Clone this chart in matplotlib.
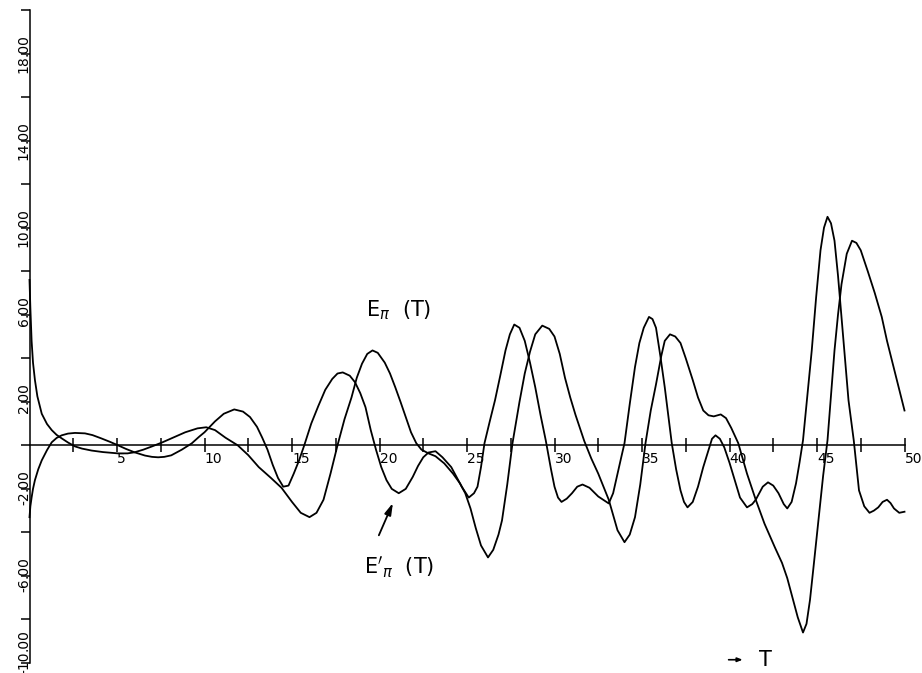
import numpy as np
import matplotlib.pyplot as plt

# E_pi(T)
t_a = [0.0, 0.05, 0.12, 0.2, 0.31, 0.45, 0.7, 1.0, 1.27, 1.55, 1.84, 2.2, 2.6, 3.0, 3.55,
       4.2, 5.06, 5.6, 6.0, 6.5, 7.0, 7.6, 8.2, 8.9, 9.6, 10.1, 10.6, 11.2, 11.9, 12.5,
       13.1, 13.8, 14.4, 15.0, 15.5, 16.0, 16.4, 16.8, 17.2, 17.6, 18.0, 18.4, 18.7, 19.0,
       19.3, 19.6, 19.9, 20.3, 20.6, 20.9, 21.2, 21.5, 21.8, 22.1, 22.4, 22.8, 23.2, 23.7,
       24.2, 24.6, 24.9, 25.2, 25.5, 25.8, 26.2, 26.5, 26.8, 27.0, 27.3, 27.6, 28.0, 28.3,
       28.6, 28.9, 29.3, 29.7, 30.0, 30.3, 30.6, 30.9, 31.2, 31.7, 32.1, 32.5, 33.1, 33.6,
       34.0, 34.3, 34.6, 34.9, 35.2, 35.5, 35.8, 36.1, 36.3, 36.6, 36.9, 37.2, 37.5, 37.9,
       38.2, 38.5, 38.8, 39.1, 39.5, 39.8, 40.1, 40.5, 41.0, 41.5, 42.0, 42.6, 43.0, 43.3,
       43.6, 43.9, 44.2, 44.4, 44.6, 44.8, 45.1, 45.35, 45.6, 45.8, 46.0, 46.2, 46.4, 46.7,
       47.0, 47.25, 47.5, 47.9, 48.3, 48.7, 49.0, 49.5, 50.0]
e_a = [7.6, 6.3, 4.8, 3.8, 3.0, 2.25, 1.45, 0.98, 0.7, 0.48, 0.32, 0.13, -0.05, -0.15, -0.24,
       -0.31, -0.37, -0.37, -0.32, -0.2, -0.05, 0.14, 0.35, 0.6, 0.78, 0.83, 0.7, 0.35, 0.0, -0.45,
       -1.0, -1.5, -1.95, -2.6, -3.1, -3.3, -3.1, -2.5, -1.3, 0.0, 1.2, 2.2, 3.1, 3.75,
       4.2, 4.36, 4.25, 3.8, 3.3, 2.67, 2.0, 1.3, 0.6, 0.1, -0.2, -0.37, -0.5, -0.83,
       -1.3, -1.75, -2.2, -2.9, -3.8, -4.6, -5.15, -4.8, -4.1, -3.45, -1.8, 0.1, 2.0, 3.3,
       4.3, 5.1, 5.5, 5.35, 5.0, 4.2, 3.1, 2.2, 1.4, 0.2, -0.6, -1.3, -2.5, -3.9,
       -4.45, -4.1, -3.3, -1.8, 0.1, 1.6, 2.8, 4.1, 4.8, 5.1, 5.0, 4.7, 4.0, 3.0,
       2.2, 1.6, 1.38, 1.33, 1.42, 1.25, 0.8, 0.1, -1.3, -2.5, -3.6, -4.7, -5.4, -6.1,
       -7.0, -7.9, -8.6, -8.2, -7.1, -5.6, -3.3, -1.4, 0.23, 2.3, 4.36, 6.0, 7.4, 8.8,
       9.4, 9.3, 8.96, 8.0, 7.0, 5.9, 4.8, 3.2, 1.6]

# E'_pi(T)
t_b = [0.0, 0.05, 0.12, 0.2, 0.31, 0.5, 0.7, 1.0, 1.27, 1.55, 1.84, 2.2, 2.6, 3.17, 3.6,
       4.1, 4.6, 5.06, 5.5, 6.0, 6.6, 7.0, 7.35, 7.7, 8.1, 8.7, 9.27, 9.7, 10.0, 10.6,
       11.1, 11.7, 12.2, 12.6, 13.0, 13.3, 13.6, 13.9, 14.2, 14.5, 14.8, 15.1, 15.4, 15.7,
       16.1, 16.5, 16.9, 17.3, 17.6, 17.9, 18.3, 18.6, 18.9, 19.2, 19.5, 19.8, 20.1, 20.4,
       20.7, 21.1, 21.5, 21.9, 22.2, 22.5, 22.8, 23.2, 23.6, 24.1, 24.4, 24.7, 25.1, 25.4,
       25.6, 25.8, 26.0, 26.3, 26.6, 26.9, 27.2, 27.45, 27.7, 28.0, 28.3, 28.6, 28.9, 29.2,
       29.5, 29.8, 30.0, 30.2, 30.4, 30.7, 31.0, 31.3, 31.6, 32.0, 32.5, 33.1, 33.35, 33.6,
       33.8, 34.0, 34.3, 34.6, 34.85, 35.1, 35.4, 35.6, 35.8, 36.05, 36.3, 36.5, 36.7, 36.95,
       37.2, 37.4, 37.6, 37.9, 38.2, 38.5, 38.8, 39.0, 39.2, 39.45, 39.7, 40.0, 40.3, 40.6,
       41.0, 41.3, 41.5, 41.9, 42.2, 42.5, 42.8, 43.1, 43.3, 43.55, 43.8, 44.0, 44.2, 44.45,
       44.7, 44.95, 45.2, 45.4, 45.6, 45.8, 46.0, 46.2, 46.4, 46.6, 46.8, 47.1, 47.4, 47.7,
       48.0, 48.25, 48.5, 48.75, 49.0, 49.2, 49.4, 49.7, 50.0]
e_b = [-3.3, -2.8, -2.4, -2.0, -1.6, -1.1, -0.69, -0.22, 0.14, 0.34, 0.46, 0.54, 0.57, 0.55, 0.47,
       0.32, 0.16, 0.0, -0.16, -0.32, -0.47, -0.53, -0.55, -0.53, -0.46, -0.2, 0.09, 0.4, 0.6, 1.1,
       1.45, 1.65, 1.55, 1.3, 0.85, 0.35, -0.2, -0.9, -1.5, -1.9, -1.85, -1.3, -0.7, 0.0,
       1.0, 1.8, 2.55, 3.05, 3.3, 3.35, 3.2, 2.9, 2.4, 1.75, 0.7, -0.2, -1.0, -1.6,
       -2.0, -2.2, -2.0, -1.45, -0.95, -0.55, -0.33, -0.27, -0.55, -1.0, -1.45, -1.9, -2.4, -2.2,
       -1.9, -1.0, 0.1, 1.1, 2.07, 3.2, 4.36, 5.1, 5.55, 5.4, 4.8, 3.8, 2.67, 1.4,
       0.23, -1.1, -1.9, -2.4, -2.6, -2.45, -2.2, -1.9, -1.8, -1.95, -2.35, -2.67, -2.2, -1.3,
       -0.6, 0.1, 1.9, 3.6, 4.7, 5.4, 5.9, 5.8, 5.4, 4.1, 2.67, 1.4, 0.1, -1.1,
       -2.07, -2.6, -2.85, -2.6, -1.9, -1.0, -0.23, 0.3, 0.46, 0.3, -0.09, -0.8, -1.6, -2.4,
       -2.85, -2.7, -2.5, -1.9, -1.7, -1.85, -2.2, -2.7, -2.9, -2.6, -1.75, -0.8, 0.23, 2.3,
       4.36, 6.8, 8.96, 10.0, 10.5, 10.2, 9.4, 7.8, 5.9, 4.0, 2.07, 0.23, -2.07, -2.8,
       -3.1, -3.0, -2.85, -2.6, -2.5, -2.65, -2.9, -3.1, -3.05]

x_major = [5, 10, 15, 20, 25, 30, 35, 40, 45, 50]
x_minor = [2.5, 7.5, 12.5, 17.5, 22.5, 27.5, 32.5, 37.5, 42.5, 47.5]
y_ticks = list(range(-10, 21, 2))
y_labels = ['-10.00', '-6.00', '-2.00', '2.00', '6.00', '10.00', '14.00', '18.00']
y_label_vals = [-10, -6, -2, 2, 6, 10, 14, 18]

plt.rcParams['font.family'] = 'DejaVu Sans'

fig = plt.figure(figsize=(9.22, 6.73), dpi=100)
ax = fig.add_axes([29.5 / 922, 10 / 673, 875 / 922, 653 / 673])

ax.plot(t_a, e_a, color='black', lw=1.3, clip_on=False, solid_joinstyle='round')
ax.plot(t_b, e_b, color='black', lw=1.3, clip_on=False, solid_joinstyle='round')

ax.set_xlim(0, 50)
ax.set_ylim(-10, 20)

for s in ['top', 'right']:
    ax.spines[s].set_visible(False)
ax.spines['bottom'].set_position(('data', 0))
ax.spines['bottom'].set_bounds(0, 50)
ax.spines['left'].set_bounds(-10, 20)
for s in ['bottom', 'left']:
    ax.spines[s].set_linewidth(1.1)

ax.set_xticks(x_major)
ax.set_xticklabels([str(v) for v in x_major], fontsize=10)
ax.set_xticks(x_minor, minor=True)
ax.tick_params(axis='x', which='both', direction='inout', length=10, width=1.1, pad=0)
for lbl in ax.get_xticklabels():
    lbl.set_horizontalalignment('left')

ax.set_yticks(y_ticks)
ax.set_yticklabels([])
ax.tick_params(axis='y', direction='out', length=6.5, width=1.1)

# y labels with the decimal point sitting on the tick
for v, lab in zip(y_label_vals, y_labels):
    whole, dec = lab.split('.')
    dy = 8.5 if v == -10 else -1.5   # bottom label pushed up so it stays on the page
    ax.annotate(whole, xy=(0, v), xytext=(1, dy), textcoords='offset points',
                rotation=90, ha='right', va='top', fontsize=10)
    ax.annotate('.' + dec, xy=(0, v), xytext=(1, dy), textcoords='offset points',
                rotation=90, ha='right', va='bottom', fontsize=10)

ax.text(19.2, 6.2, r'$\mathrm{E}_{\pi}$  (T)', fontsize=15, va='center', ha='left')
ax.text(19.1, -5.6, r"$\mathrm{E}'_{\pi}$  (T)", fontsize=15, va='center', ha='left')
ax.annotate('', xy=(20.83, -2.53), xytext=(19.9, -4.25),
            arrowprops=dict(arrowstyle='-|>,head_length=0.7,head_width=0.2',
                            color='black', lw=1.3))

ax.annotate('', xy=(40.75, -9.85), xytext=(39.95, -9.85), annotation_clip=False,
            arrowprops=dict(arrowstyle='-|>,head_length=0.3,head_width=0.12',
                            color='black', lw=1.2, shrinkA=0, shrinkB=0))
ax.text(41.7, -9.85, 'T', fontsize=15, va='center', ha='left')

fig.savefig('out.png', dpi=100)
